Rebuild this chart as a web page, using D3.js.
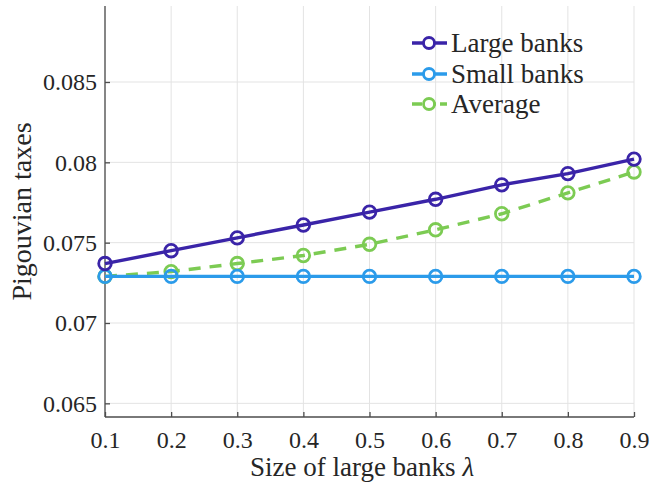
<!DOCTYPE html>
<html>
<head>
<meta charset="utf-8">
<script src="https://cdn.jsdelivr.net/npm/d3@7"></script>
<style>
  html, body { margin: 0; padding: 0; background: #fff; }
  svg { display: block; }
</style>
</head>
<body>
<svg id="chart" width="650" height="487"></svg>
<script>
// Bank size share λ on the horizontal axis
const lambdas = [0.1, 0.2, 0.3, 0.4, 0.5, 0.6, 0.7, 0.8, 0.9];
// Pigouvian taxes for each bank group
const largeBanks = [0.0737, 0.0745, 0.0753, 0.0761, 0.0769, 0.0777, 0.0786, 0.0793, 0.0802];
const smallBanks = [0.0729, 0.0729, 0.0729, 0.0729, 0.0729, 0.0729, 0.0729, 0.0729, 0.0729];
const average    = [0.0729, 0.0732, 0.0737, 0.0742, 0.0749, 0.0758, 0.0768, 0.0781, 0.0794];
const seriesNames = ["Large banks", "Small banks", "Average"];
const yTicks = [0.065, 0.07, 0.075, 0.08, 0.085];
const yTickLabels = ["0.065", "0.07", "0.075", "0.08", "0.085"];

const FONT = '"Liberation Serif"';
const INK = "#262626";

const svg = d3.select("#chart");
const m = { left: 105, right: 634, top: 6, bottom: 417 };

const x = d3.scaleLinear().domain([0.1, 0.9]).range([m.left, m.right]);
const y = d3.scaleLinear().domain([0.06415, 0.08973]).range([m.bottom, m.top]);

// grid
const grid = svg.append("g");
grid.selectAll("line.gx").data(lambdas).join("line")
  .attr("x1", d => x(d)).attr("x2", d => x(d))
  .attr("y1", m.top).attr("y2", m.bottom)
  .attr("stroke", "#e3e3e3").attr("stroke-width", 1);
grid.selectAll("line.gy").data(yTicks).join("line")
  .attr("x1", m.left).attr("x2", m.right)
  .attr("y1", d => y(d)).attr("y2", d => y(d))
  .attr("stroke", "#e3e3e3").attr("stroke-width", 1);

// axes
const xAxis = d3.axisBottom(x).tickValues(lambdas).tickSize(-5).tickPadding(14)
  .tickFormat(d3.format(".1f"));
const yAxis = d3.axisLeft(y).tickValues(yTicks).tickSize(-5).tickPadding(8)
  .tickFormat((d, i) => yTickLabels[i]);

const gx = svg.append("g").attr("transform", `translate(0,${m.bottom})`).call(xAxis);
const gy = svg.append("g").attr("transform", `translate(${m.left},0)`).call(yAxis);
[gx, gy].forEach(g => {
  g.select(".domain").attr("stroke", "#4d4d4d").attr("stroke-width", 1.3);
  g.selectAll(".tick line").attr("stroke", "#4d4d4d").attr("stroke-width", 1.3);
  g.selectAll(".tick text").attr("fill", INK)
    .style("font-family", FONT).style("font-size", "24px");
});
gy.select(".domain").attr("d", `M0,${m.bottom}V${m.top}`);
gx.select(".domain").attr("d", `M${m.left},0H${m.right}`);

// axis titles
const xTitle = svg.append("text")
  .attr("x", 362).attr("y", 476)
  .attr("text-anchor", "middle").attr("fill", INK)
  .style("font-family", FONT).style("font-size", "27px");
xTitle.append("tspan").text("Size of large banks ");
xTitle.append("tspan").style("font-style", "italic").text("λ");

svg.append("text")
  .attr("transform", `translate(31,${(m.top + m.bottom) / 2}) rotate(-90)`)
  .attr("text-anchor", "middle").attr("fill", INK)
  .style("font-family", FONT).style("font-size", "28px")
  .text("Pigouvian taxes");

// series
const series = [
  { name: seriesNames[0], values: largeBanks, color: "#3a24a8", dash: null },
  { name: seriesNames[1], values: smallBanks, color: "#2b9bea", dash: null },
  { name: seriesNames[2], values: average,    color: "#7ccb53", dash: "12,9" }
];

const line = d3.line().x((d, i) => x(lambdas[i])).y(d => y(d));

// draw in reverse order so the first series sits on top
series.slice().reverse().forEach(s => {
  const g = svg.append("g");
  g.append("path").datum(s.values)
    .attr("d", line).attr("fill", "none")
    .attr("stroke", s.color).attr("stroke-width", 3.4)
    .attr("stroke-dasharray", s.dash);
  g.selectAll("circle").data(s.values).join("circle")
    .attr("cx", (d, i) => x(lambdas[i])).attr("cy", d => y(d))
    .attr("r", 6.3).attr("fill", "none")
    .attr("stroke", s.color).attr("stroke-width", 2.8);
});

// legend
const legend = svg.append("g");
const rowY = [43, 74, 104];
series.forEach((s, i) => {
  const row = legend.append("g").attr("transform", `translate(0,${rowY[i]})`);
  row.append("line").attr("x1", 412).attr("x2", 447).attr("y1", 0).attr("y2", 0)
    .attr("stroke", s.color).attr("stroke-width", 3.4)
    .attr("stroke-dasharray", s.dash ? "10,4" : null);
  row.append("circle").attr("cx", 429).attr("cy", 0).attr("r", 5.5)
    .attr("fill", "#fff").attr("stroke", s.color).attr("stroke-width", 2.8);
  row.append("text").attr("x", 451).attr("y", 9)
    .attr("fill", INK)
    .style("font-family", FONT).style("font-size", "27px")
    .text(s.name);
});
</script>
</body>
</html>
